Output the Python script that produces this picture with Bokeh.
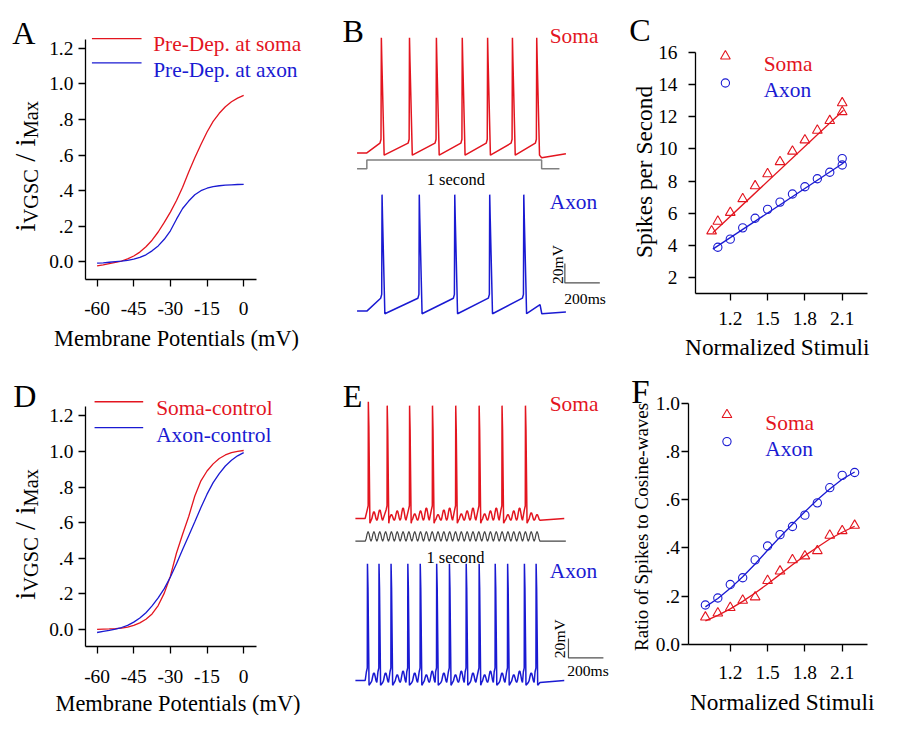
import numpy as np
from bokeh.plotting import figure
from bokeh.models import Range1d, FixedTicker
from bokeh.layouts import row, column
from bokeh.core.properties import value
from bokeh.embed import file_html
from bokeh.resources import INLINE

S = 0.972
FONT = "Liberation Serif"
RED = "#e3151f"
BLUE = "#1a1ad2"
GRAY = "#808080"
DARK = "#454545"
BAR = "#505050"

# ---------------- data ----------------
mv = [-60, -57.5, -55, -52.5, -50, -47.5, -45, -42.5, -40, -37.5, -35, -32.5, -30,
      -27.5, -25, -22.5, -20, -17.5, -15, -12.5, -10, -7.5, -5, -2.5, 0]
a_soma = [-0.022, -0.017, -0.010, -0.003, 0.005, 0.017, 0.033, 0.055, 0.085, 0.122, 0.168, 0.222, 0.280,
          0.345, 0.420, 0.505, 0.585, 0.660, 0.730, 0.790, 0.835, 0.872, 0.900, 0.920, 0.936]
a_axon = [-0.007, -0.005, -0.002, 0.001, 0.004, 0.009, 0.015, 0.025, 0.040, 0.062, 0.090, 0.127, 0.175,
          0.240, 0.300, 0.342, 0.377, 0.400, 0.414, 0.423, 0.428, 0.431, 0.433, 0.435, 0.436]
d_soma = [0.002, 0.003, 0.004, 0.006, 0.009, 0.014, 0.024, 0.038, 0.058, 0.088, 0.135, 0.205, 0.300,
          0.430, 0.535, 0.635, 0.750, 0.835, 0.890, 0.930, 0.960, 0.980, 0.993, 1.000, 1.005]
d_axon = [-0.016, -0.010, -0.004, 0.003, 0.012, 0.024, 0.042, 0.065, 0.095, 0.133, 0.178, 0.230, 0.295,
          0.370, 0.450, 0.527, 0.605, 0.685, 0.760, 0.825, 0.875, 0.918, 0.950, 0.975, 0.993]
ad_x_ticks = [-60, -45, -30, -15, 0]
ad_x_labels = ["-60", "-45", "-30", "-15", "0"]
ad_y_ticks = [0, 0.2, 0.4, 0.6, 0.8, 1.0, 1.2]
ad_y_labels = ["0.0", ".2", ".4", ".6", ".8", "1.0", "1.2"]

c_soma_x = [1.05, 1.1, 1.2, 1.3, 1.4, 1.5, 1.6, 1.7, 1.8, 1.9, 2.0, 2.1, 2.1]
c_soma_y = [4.9, 5.5, 6.05, 6.9, 7.7, 8.45, 9.2, 9.85, 10.55, 11.15, 11.75, 12.85, 12.3]
c_axon_x = [1.1, 1.2, 1.3, 1.4, 1.5, 1.6, 1.7, 1.8, 1.9, 2.0, 2.1, 2.1]
c_axon_y = [3.9, 4.4, 5.1, 5.7, 6.25, 6.7, 7.2, 7.65, 8.15, 8.55, 9.4, 9.0]
c_soma_fit_x = [1.06, 2.11]
c_soma_fit_y = [4.8, 12.4]
c_axon_fit_x = [1.06, 2.11]
c_axon_fit_y = [3.78, 9.13]
c_y_ticks = [2, 4, 6, 8, 10, 12, 14, 16]
c_y_labels = ["2", "4", "6", "8", "10", "12", "14", "16"]
cf_x_ticks = [1.2, 1.5, 1.8, 2.1]
cf_x_labels = ["1.2", "1.5", "1.8", "2.1"]

f_x = [1.0, 1.1, 1.2, 1.3, 1.4, 1.5, 1.6, 1.7, 1.8, 1.9, 2.0, 2.1, 2.2]
f_soma = [0.112, 0.129, 0.152, 0.182, 0.196, 0.264, 0.303, 0.350, 0.366, 0.388, 0.452, 0.471, 0.493]
f_axon = [0.163, 0.192, 0.248, 0.276, 0.350, 0.408, 0.455, 0.489, 0.536, 0.587, 0.650, 0.701, 0.713]
f_soma_fit = [0.097, 0.120, 0.147, 0.178, 0.213, 0.250, 0.290, 0.330, 0.368, 0.403, 0.437, 0.465, 0.490]
f_axon_fit = [0.155, 0.190, 0.232, 0.280, 0.333, 0.390, 0.445, 0.498, 0.550, 0.600, 0.645, 0.685, 0.715]
f_y_ticks = [0, 0.2, 0.4, 0.6, 0.8, 1.0]
f_y_labels = ["0.0", ".2", ".4", ".6", ".8", "1.0"]

b_soma_spikes = [83, 244, 398, 546, 691, 833, 972]
b_soma_levels = dict(rest=-65, thr=-55, peak=53.7, ahp=-67.3)
b_soma_post_t = [1000, 1139]
b_soma_post_v = [-70, -66]
b_axon_spikes = [87, 300, 503, 703, 898]
b_axon_levels = dict(rest=-65, thr=-51.7, peak=55, ahp=-67.7)
b_axon_post_t = [991, 1001, 1139]
b_axon_post_v = [-58.3, -67.7, -66]

e_cycles = 30
e_soma_spikes = [18, 126, 254, 385, 518, 652, 783, 917]
e_soma_peaks = [55, 51, 51, 51, 51, 51, 51, 51]
e_soma_humps = [9, 11, 6, 10, 13, 7, 10, 13, 6, 11, 13, 7, 10, 13, 7, 10, 13, 6, 10, 13, 8, 6]
e_axon_spikes = [13, 79, 148, 244, 315, 409, 482, 578, 652, 744, 815, 911, 978]
e_axon_peaks = [55] * 13
e_axon_humps = [10, 10, 8, 12, 10, 8, 12, 10, 8, 12, 10, 8, 12, 10, 8, 12, 10]

T_BEGIN, T_END = -56, 1139

# panel boundaries in reference pixels
X1, X2, WT = 330, 640, 904
Y1, HT = 375, 736


# ---------------- helpers ----------------
def lin_range(pa, va, pb, vb, p0, size, vertical=False):
    k = (vb - va) / (pb - pa)
    v0 = va + (p0 - pa) * k
    v1 = v0 + size * k
    return Range1d(start=v1, end=v0) if vertical else Range1d(start=v0, end=v1)


def make_fig(box, xcal, ycal, axes=True):
    ox, oy, W, H = box
    xr = lin_range(*xcal, ox, W)
    yr = lin_range(*ycal, oy, H, True)
    kw = dict(width=round(W * S), height=round(H * S), x_range=xr, y_range=yr,
              min_border=0, toolbar_location=None, output_backend="svg", tools="")
    if not axes:
        kw.update(x_axis_type=None, y_axis_type=None)
    p = figure(**kw)
    p.extra_x_ranges = {"px": Range1d(ox, ox + W)}
    p.extra_y_ranges = {"py": Range1d(oy + H, oy)}
    p.outline_line_color = None
    p.background_fill_color = "white"
    p.border_fill_color = "white"
    if axes:
        p.xgrid.grid_line_color = None
        p.ygrid.grid_line_color = None
    p._box = box
    return p


def add_range(p, name, cal):
    ox, oy, W, H = p._box
    p.extra_y_ranges[name] = lin_range(*cal, oy, H, True)


def style_axis(ax, ticks, labels, bounds, loc, standoff, size=20):
    ax.ticker = FixedTicker(ticks=ticks, minor_ticks=[])
    ax.major_label_overrides = dict(zip(ticks, labels))
    ax.bounds = bounds
    ax.fixed_location = loc
    ax.axis_line_width = 1.3
    ax.axis_line_color = "black"
    ax.major_tick_line_width = 1.3
    ax.major_tick_line_color = "black"
    ax.major_tick_out = 7
    ax.major_tick_in = 0
    ax.minor_tick_out = 0
    ax.minor_tick_in = 0
    ax.major_label_text_font = FONT
    ax.major_label_text_font_size = f"{size * S:.1f}px"
    ax.major_label_text_color = "black"
    ax.major_label_standoff = int(round(standoff))


def txt(p, x, y, s, size, color="black", align="left", angle=0.0, baseline="alphabetic"):
    p.text(x=[x], y=[y], text=[s], x_range_name="px", y_range_name="py",
           text_font=value(FONT), text_font_size=value(f"{size * S:.1f}px"),
           text_color=color, text_align=align, text_baseline=baseline, angle=angle)


def pxline(p, xs, ys, color, width=1.3):
    p.line(x=xs, y=ys, x_range_name="px", y_range_name="py", line_color=color, line_width=width)


def ivgsc_label(p, y_bottom, xb_big, xb_sub, F=30, f=21):
    # Liberation Serif advance widths (em): i .278, VGSC 2.667, " / " .778, Max 1.833
    pieces = [("i", 0.278 * F, xb_big, F), ("VGSC", 2.667 * f, xb_sub, f), ("/", 0.778 * F, xb_big, F),
              ("i", 0.278 * F, xb_big, F), ("Max", 1.833 * f, xb_sub, f)]
    y = y_bottom
    for s, w, xb, fs in pieces:
        txt(p, xb, y - w / 2, s, fs, align="center", angle=np.pi / 2)
        y -= w


def step_trace(spikes, lv, post_t, post_v):
    t = [T_BEGIN, 0.0]
    v = [lv["rest"], lv["rest"]]
    for ts in spikes:
        t += [ts - 8, ts - 2, ts, ts + 3, ts + 16]
        v += [lv["thr"], lv["thr"] + 4, lv["peak"], lv["peak"] - 25, lv["ahp"]]
    t += list(post_t)
    v += list(post_v)
    return t, v


def cos_trace(spikes, peaks, humps, rest=-65, trough=-67, thr=-56, ahp=-70):
    P = 1000.0 / e_cycles
    t = [T_BEGIN, 0.0]
    v = [rest, rest]
    sp = {int(ts // P): (ts, pk) for ts, pk in zip(spikes, peaks)}
    hi = 0
    for k in range(e_cycles):
        t0 = k * P
        if k in sp:
            ts, pk = sp[k]
            t += [ts - 6, ts - 1, ts, ts + 3, ts + 9]
            v += [thr, thr + 4, pk, pk - 25, ahp]
            if ts + 9 < t0 + P - 1:
                t.append(t0 + P)
                v.append(trough)
        else:
            amp = humps[hi]
            hi += 1
            for u in np.linspace(0, 1, 8)[1:]:
                t.append(t0 + u * P)
                v.append(trough + amp * (1 - np.cos(2 * np.pi * u)) / 2)
    t.append(T_END)
    v.append(rest)
    return t, v


# ---------------- Panel A ----------------
pA = make_fig((0, 0, X1, Y1), (99.3, -60, 250, 0), (49.3, 1.2, 269.3, 0))
style_axis(pA.xaxis, ad_x_ticks, ad_x_labels, (-64.8, 5.2), -0.097, 16)
style_axis(pA.yaxis, ad_y_ticks, ad_y_labels, (-0.097, 1.251), -64.8, 5)
pA.line(mv, a_soma, line_color=RED, line_width=1.3)
pA.line(mv, a_axon, line_color=BLUE, line_width=1.3)
txt(pA, 12, 33, "A", 33)
pxline(pA, [94, 145], [39.3, 39.3], RED)
pxline(pA, [94, 145], [64.3, 64.3], BLUE)
txt(pA, 157, 45, "Pre-Dep. at soma", 22, RED)
txt(pA, 157, 71.7, "Pre-Dep. at axon", 22, BLUE)
txt(pA, 181, 348, "Membrane Potentials (mV)", 23, align="center")
ivgsc_label(pA, 238, 25.5, 31.5)

# ---------------- Panel D ----------------
pD = make_fig((0, Y1, X1, HT - Y1), (99.3, -60, 250, 0), (427.7, 1.2, 647.7, 0))
style_axis(pD.xaxis, ad_x_ticks, ad_x_labels, (-64.8, 5.2), -0.094, 17)
style_axis(pD.yaxis, ad_y_ticks, ad_y_labels, (-0.094, 1.251), -64.8, 5)
pD.line(mv, d_soma, line_color=RED, line_width=1.3)
pD.line(mv, d_axon, line_color=BLUE, line_width=1.3)
txt(pD, 13, 407, "D", 33)
pxline(pD, [96.7, 146.7], [413.3, 413.3], RED)
pxline(pD, [96.7, 146.7], [440, 440], BLUE)
txt(pD, 160, 420, "Soma-control", 22, RED)
txt(pD, 160, 447.3, "Axon-control", 22, BLUE)
txt(pD, 182.5, 724, "Membrane Potentials (mV)", 23, align="center")
ivgsc_label(pD, 617, 25.5, 31.5)

# ---------------- Panel C ----------------
pC = make_fig((X2, 0, WT - X2, Y1), (750.7, 1.2, 865.7, 2.1), (53.3, 16, 285.7, 2))
style_axis(pC.xaxis, cf_x_ticks, cf_x_labels, (0.921, 2.303), 1.0, 11)
style_axis(pC.yaxis, c_y_ticks, c_y_labels, (1.0, 16.0), 0.921, 11)
pC.line(c_soma_fit_x, c_soma_fit_y, line_color=RED, line_width=1.3)
pC.line(c_axon_fit_x, c_axon_fit_y, line_color=BLUE, line_width=1.3)
pC.scatter(c_soma_x, c_soma_y, marker="triangle", size=10 * S, fill_color=None, line_color=RED, line_width=1.1)
pC.scatter(c_axon_x, c_axon_y, marker="circle", size=8.5 * S, fill_color=None, line_color=BLUE, line_width=1.1)
txt(pC, 647, 30, "C", 33)
pC.scatter([745.7], [57.3], marker="triangle", size=10 * S, fill_color=None, line_color=RED, line_width=1.1,
           x_range_name="px", y_range_name="py")
pC.scatter([745.7], [85], marker="circle", size=8.5 * S, fill_color=None, line_color=BLUE, line_width=1.1,
           x_range_name="px", y_range_name="py")
txt(pC, 785, 65, "Soma", 22, RED)
txt(pC, 785, 91.7, "Axon", 22, BLUE)
txt(pC, 661.7, 176.7, "Spikes per Second", 24, align="center", angle=np.pi / 2)
txt(pC, 799, 357, "Normalized Stimuli", 24, align="center")

# ---------------- Panel F ----------------
pF = make_fig((X2, Y1, WT - X2, HT - Y1), (750.7, 1.2, 865.7, 2.1), (415, 1.0, 662.7, 0))
style_axis(pF.xaxis, cf_x_ticks, cf_x_labels, (0.868, 2.303), 0.0, 15)
style_axis(pF.yaxis, f_y_ticks, f_y_labels, (0.0, 1.0), 0.868, 2)
pF.line(f_x, f_soma_fit, line_color=RED, line_width=1.3)
pF.line(f_x, f_axon_fit, line_color=BLUE, line_width=1.3)
pF.scatter(f_x, f_soma, marker="triangle", size=10 * S, fill_color=None, line_color=RED, line_width=1.1)
pF.scatter(f_x, f_axon, marker="circle", size=8.5 * S, fill_color=None, line_color=BLUE, line_width=1.1)
txt(pF, 649, 403, "F", 34)
pF.scatter([747.3], [426.7], marker="triangle", size=10 * S, fill_color=None, line_color=RED, line_width=1.1,
           x_range_name="px", y_range_name="py")
pF.scatter([747.3], [454.3], marker="circle", size=8.5 * S, fill_color=None, line_color=BLUE, line_width=1.1,
           x_range_name="px", y_range_name="py")
txt(pF, 786.7, 435, "Soma", 22, RED)
txt(pF, 786.7, 461.7, "Axon", 22, BLUE)
txt(pF, 660, 542, "Ratio of Spikes to Cosine-waves", 19.5, align="center", angle=np.pi / 2)
txt(pF, 804, 722, "Normalized Stimuli", 24, align="center")

# ---------------- Panel B ----------------
pB = make_fig((X1, 0, X2 - X1, Y1), (376.7, 0, 556.7, 1000), (157, -65, 57, 35), axes=False)
add_range(pB, "axon", (320, -65, 220, 35))
add_range(pB, "stim", (173.3, 0, 164.3, 1))
t, v = step_trace(b_soma_spikes, b_soma_levels, b_soma_post_t, b_soma_post_v)
pB.line(t, v, line_color=RED, line_width=1.5)
t, v = step_trace(b_axon_spikes, b_axon_levels, b_axon_post_t, b_axon_post_v)
pB.line(t, v, line_color=BLUE, line_width=1.5, y_range_name="axon")
pB.line([T_BEGIN, 0, 0, 1000, 1000, 1102], [0, 0, 1, 1, 0, 0], line_color=GRAY, line_width=1.5, y_range_name="stim")
pB.line([1133, 1133, 1333], [-16, -36, -36], line_color=BAR, line_width=1.2, y_range_name="axon")
txt(pB, 351.7, 31.7, "B", 33)
txt(pB, 565, 36.7, "Soma", 22, RED)
txt(pB, 565, 208, "Axon", 22, BLUE)
txt(pB, 468.3, 184.3, "1 second", 17, align="center")
txt(pB, 573, 272, "20mV", 16, align="center", angle=np.pi / 2)
txt(pB, 580, 307, "200ms", 16)

# ---------------- Panel E ----------------
pE = make_fig((X1, Y1, X2 - X1, HT - Y1), (375, 0, 555, 1000), (533.3, -65, 433.3, 35), axes=False)
add_range(pE, "axon", (700, -65, 600, 35))
add_range(pE, "stim", (556.7, 0, 546.7, 1))
t, v = cos_trace(e_soma_spikes, e_soma_peaks, e_soma_humps)
pE.line(t, v, line_color=RED, line_width=1.5)
t, v = cos_trace(e_axon_spikes, e_axon_peaks, e_axon_humps)
pE.line(t, v, line_color=BLUE, line_width=1.5, y_range_name="axon")
P = 1000.0 / e_cycles
st_t = [T_BEGIN]
st_v = [0.0]
for k in range(e_cycles):
    for u in np.linspace(0, 1, 7)[:-1]:
        st_t.append(k * P + u * P)
        st_v.append((1 - np.cos(2 * np.pi * u)) / 2)
st_t += [1000, 1148]
st_v += [0, 0]
pE.line(st_t, st_v, line_color=DARK, line_width=1.2, y_range_name="stim")
pE.line([1163, 1163, 1363], [-21.7, -41.7, -41.7], line_color=BAR, line_width=1.2, y_range_name="axon")
txt(pE, 352, 407, "E", 33)
txt(pE, 565, 416, "Soma", 22, RED)
txt(pE, 565, 587, "Axon", 22, BLUE)
txt(pE, 468, 573, "1 second", 17, align="center")
txt(pE, 575, 657, "20mV", 16, align="center", angle=np.pi / 2)
txt(pE, 583, 690, "200ms", 16)

layout = column(row(pA, pB, pC), row(pD, pE, pF))
open("out.html", "w").write(file_html(layout, INLINE))
